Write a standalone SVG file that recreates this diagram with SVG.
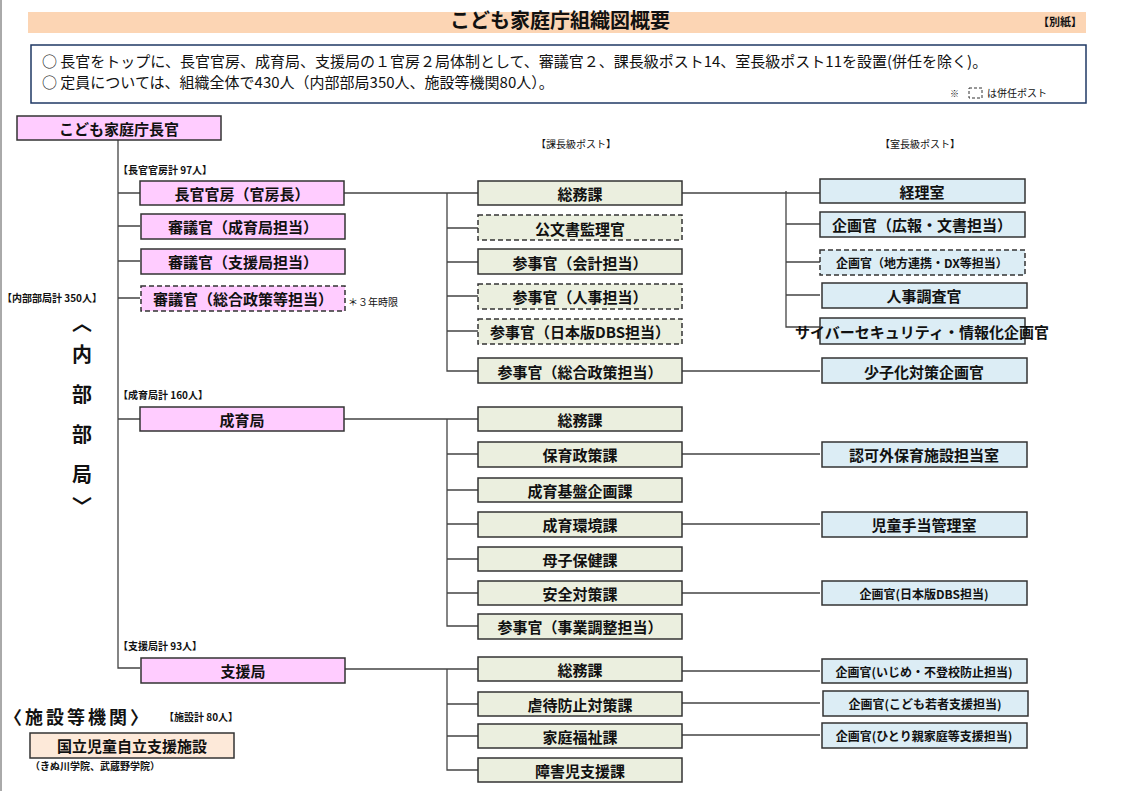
<svg xmlns="http://www.w3.org/2000/svg" width="1121" height="791" viewBox="0 0 1121 791">
<style>
text{font-family:"Noto Sans CJK JP","Noto Sans",sans-serif;fill:#111}
.b{font-weight:bold}
.nd rect{stroke:#333;stroke-width:1.5}
.p rect{fill:#ffccff}
.g rect{fill:#ebefdf}
.c rect{fill:#dcedf5}
.o rect{fill:#fde9d9}
.d rect{stroke-dasharray:5 3}
.nd text{font-weight:bold;text-anchor:middle;dominant-baseline:central;font-size:15px}
.s text{font-size:12px}
.l{font-size:10px;font-weight:bold}
#conn path{fill:none;stroke:#444;stroke-width:1.3}
</style>
<rect width="1121" height="791" fill="#fff"/>
<line x1="1" y1="0" x2="1" y2="791" stroke="#555"/>
<rect x="28" y="12" width="1058" height="21" fill="#fcd5b4"/>
<text x="560" y="28" class="b" font-size="20" text-anchor="middle">こども家庭庁組織図概要</text>
<text x="1082" y="26" class="b" font-size="11" text-anchor="end">【別紙】</text>
<rect x="31" y="45" width="1055" height="58" fill="#fff" stroke="#1f3864" stroke-width="1.5"/>
<text x="42" y="67" font-size="15">○ 長官をトップに、長官官房、成育局、支援局の１官房２局体制として、審議官２、課長級ポスト14、室長級ポスト11を設置(併任を除く)。</text>
<text x="42" y="88" font-size="15">○ 定員については、組織全体で430人（内部部局350人、施設等機関80人）。</text>
<text x="950" y="97" font-size="9">※</text>
<rect x="969" y="88" width="13" height="10" fill="none" stroke="#333" stroke-dasharray="3 2"/>
<text x="987" y="97" font-size="10">は併任ポスト</text>
<text x="576" y="148" font-size="10" text-anchor="middle">【課長級ポスト】</text>
<text x="920" y="148" font-size="10" text-anchor="middle">【室長級ポスト】</text>
<text x="118" y="174" class="l">【長官官房計 97人】</text>
<text x="2" y="302" class="l">【内部部局計 350人】</text>
<text x="118" y="399" class="l">【成育局計 160人】</text>
<text x="118" y="650" class="l">【支援局計 93人】</text>
<text x="348" y="306" font-size="10">＊３年時限</text>
<g class="b" font-size="20" text-anchor="middle">
<text x="82" y="331">︿</text>
<text x="82" y="362">内</text>
<text x="82" y="402">部</text>
<text x="82" y="442">部</text>
<text x="82" y="482">局</text>
<text x="82" y="514">﹀</text>
</g>
<text x="4" y="724" class="b" font-size="18" letter-spacing="3">〈施設等機関〉</text>
<text x="164" y="721" class="l">【施設計 80人】</text>
<text x="30" y="770" class="l">（きぬ川学院、武蔵野学院）</text>
<g id="conn">
<path d="M118 140V668H140M118 193H140M118 226H140M118 261H140M118 298H140M118 419H140"/>
<path d="M344 193H478M447 193V371H478M447 228H478M447 262H478M447 296H478M447 331H478"/>
<path d="M682 193H820M786 191V327H820M786 224H820M786 262H820M786 295H820M682 371H820"/>
<path d="M344 419H478M447 419V626H478M447 454H478M447 490H478M447 524H478M447 559H478M447 593H478"/>
<path d="M682 454H820M682 524H820M682 593H820"/>
<path d="M344 669H478M447 669V770H478M447 704H478M447 736H478"/>
<path d="M682 671H820M682 703H820M682 735H820"/>
</g>
<g id="n0" class="nd p"><rect x="17" y="116" width="204" height="24"/><text x="119" y="128">こども家庭庁長官</text></g>
<g id="n1" class="nd p"><rect x="140" y="181" width="204" height="24"/><text x="242" y="193">長官官房（官房長）</text></g>
<g id="n2" class="nd p"><rect x="141" y="214" width="204" height="25"/><text x="243" y="226" font-size="14">審議官（成育局担当）</text></g>
<g id="n3" class="nd p"><rect x="141" y="249" width="204" height="25"/><text x="243" y="261" font-size="14">審議官（支援局担当）</text></g>
<g id="n4" class="nd p d"><rect x="141" y="286" width="204" height="25"/><text x="243" y="298" font-size="14">審議官（総合政策等担当）</text></g>
<g id="n5" class="nd p"><rect x="140" y="407" width="204" height="24"/><text x="242" y="419">成育局</text></g>
<g id="n6" class="nd p"><rect x="141" y="658" width="204" height="25"/><text x="243" y="670">支援局</text></g>
<g id="n7" class="nd o"><rect x="30" y="733" width="204" height="25"/><text x="132" y="745">国立児童自立支援施設</text></g>
<g id="a1" class="nd g"><rect x="478" y="181" width="204" height="24"/><text x="580" y="193" font-size="14">総務課</text></g>
<g id="a2" class="nd g d"><rect x="478" y="215" width="204" height="25"/><text x="580" y="228">公文書監理官</text></g>
<g id="a3" class="nd g"><rect x="478" y="249" width="204" height="25"/><text x="580" y="262">参事官（会計担当）</text></g>
<g id="a4" class="nd g d"><rect x="478" y="284" width="204" height="25"/><text x="580" y="296">参事官（人事担当）</text></g>
<g id="a5" class="nd g d"><rect x="478" y="319" width="204" height="25"/><text x="580" y="331">参事官（日本版DBS担当）</text></g>
<g id="a6" class="nd g"><rect x="478" y="358" width="204" height="25"/><text x="580" y="371">参事官（総合政策担当）</text></g>
<g id="b1" class="nd g"><rect x="478" y="407" width="204" height="24"/><text x="580" y="419" font-size="14">総務課</text></g>
<g id="b2" class="nd g"><rect x="478" y="442" width="204" height="25"/><text x="580" y="454">保育政策課</text></g>
<g id="b3" class="nd g"><rect x="478" y="478" width="204" height="24"/><text x="580" y="490">成育基盤企画課</text></g>
<g id="b4" class="nd g"><rect x="478" y="512" width="204" height="25"/><text x="580" y="524">成育環境課</text></g>
<g id="b5" class="nd g"><rect x="478" y="547" width="204" height="24"/><text x="580" y="559">母子保健課</text></g>
<g id="b6" class="nd g"><rect x="478" y="581" width="204" height="24"/><text x="580" y="593">安全対策課</text></g>
<g id="b7" class="nd g"><rect x="478" y="614" width="204" height="25"/><text x="580" y="626">参事官（事業調整担当）</text></g>
<g id="c1" class="nd g"><rect x="478" y="657" width="204" height="24"/><text x="580" y="669" font-size="14">総務課</text></g>
<g id="c2" class="nd g"><rect x="478" y="692" width="204" height="24"/><text x="580" y="704">虐待防止対策課</text></g>
<g id="c3" class="nd g"><rect x="478" y="724" width="204" height="24"/><text x="580" y="736">家庭福祉課</text></g>
<g id="c4" class="nd g"><rect x="478" y="758" width="204" height="24"/><text x="580" y="770">障害児支援課</text></g>
<g id="r1" class="nd c"><rect x="820" y="179" width="205" height="24"/><text x="922" y="191">経理室</text></g>
<g id="r2" class="nd c"><rect x="820" y="212" width="205" height="25"/><text x="922" y="224">企画官（広報・文書担当）</text></g>
<g id="r3" class="nd c d s"><rect x="820" y="250" width="205" height="25"/><text x="922" y="262">企画官（地方連携・DX等担当）</text></g>
<g id="r4" class="nd c"><rect x="822" y="283" width="205" height="25"/><text x="924" y="295">人事調査官</text></g>
<g id="r5" class="nd c"><rect x="820" y="318" width="205" height="26"/><text x="922" y="331" font-size="11">サイバーセキュリティ・情報化企画官</text></g>
<g id="r6" class="nd c"><rect x="822" y="358" width="205" height="25"/><text x="924" y="371">少子化対策企画官</text></g>
<g id="r7" class="nd c"><rect x="822" y="442" width="205" height="25"/><text x="924" y="454">認可外保育施設担当室</text></g>
<g id="r8" class="nd c"><rect x="822" y="512" width="205" height="25"/><text x="924" y="524">児童手当管理室</text></g>
<g id="r9" class="nd c s"><rect x="822" y="581" width="205" height="24"/><text x="924" y="593">企画官(日本版DBS担当)</text></g>
<g id="r10" class="nd c s"><rect x="822" y="659" width="205" height="24"/><text x="924" y="671">企画官(いじめ・不登校防止担当)</text></g>
<g id="r11" class="nd c s"><rect x="823" y="691" width="205" height="25"/><text x="925" y="703">企画官(こども若者支援担当)</text></g>
<g id="r12" class="nd c s"><rect x="822" y="723" width="205" height="25"/><text x="924" y="735">企画官(ひとり親家庭等支援担当)</text></g>
</svg>
